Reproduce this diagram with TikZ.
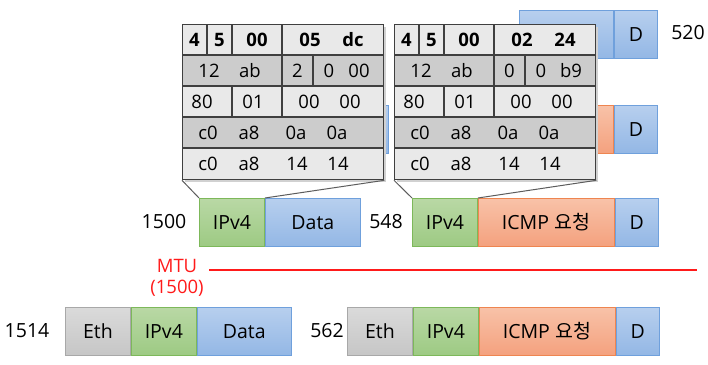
\documentclass[tikz,border=0pt]{standalone}
\usepackage{fontspec}
\setmainfont{Open Sans}
\newfontfamily\krfont{Noto Sans CJK KR}
\usetikzlibrary{positioning}
\definecolor{GreenTop}{HTML}{B9D8A5}
\definecolor{GreenBot}{HTML}{9DCA83}
\definecolor{GreenLine}{HTML}{7DB85A}
\definecolor{BlueTop}{HTML}{B7CFEE}
\definecolor{BlueBot}{HTML}{93B7E5}
\definecolor{BlueLine}{HTML}{6FA0DC}
\definecolor{OrangeTop}{HTML}{F8C2A8}
\definecolor{OrangeBot}{HTML}{F4A17E}
\definecolor{OrangeLine}{HTML}{EE8550}
\definecolor{GrayTop}{HTML}{DADADA}
\definecolor{GrayBot}{HTML}{C6C6C6}
\definecolor{GrayLine}{HTML}{A8A8A8}
\definecolor{TabLight}{HTML}{E9E9E9}
\definecolor{TabDark}{HTML}{CCCCCC}
\definecolor{TabLine}{HTML}{3F3F3F}
\definecolor{MTURed}{HTML}{FF1A1A}

\tikzset{
  pkt/.style={anchor=north west, inner sep=0pt, minimum height=48pt, line width=0.9pt,
    font=\fontsize{19.5}{21}\selectfont},
  ipv4/.style={pkt, draw=GreenLine, top color=GreenTop, bottom color=GreenBot, minimum width=65pt},
  pay/.style={pkt, draw=BlueLine, top color=BlueTop, bottom color=BlueBot},
  icmp/.style={pkt, draw=OrangeLine, top color=OrangeTop, bottom color=OrangeBot, minimum width=136pt},
  eth/.style={pkt, draw=GrayLine, top color=GrayTop, bottom color=GrayBot, minimum width=65pt},
  lbl/.style={inner sep=0pt, font=\fontsize{19.5}{21}\selectfont},
  mtutxt/.style={inner sep=0pt, text=MTURed, font=\fontsize{18.5}{20}\selectfont},
  tabline/.style={draw=TabLine, line width=1.1pt},
  tabframe/.style={draw=TabLine, line width=1.3pt, anchor=north west, inner sep=0pt,
    minimum width=201pt, minimum height=155pt},
  htxt/.style={inner sep=0pt, font=\fontsize{18.5}{20}\selectfont},
  hbold/.style={htxt, font=\fontsize{18.5}{20}\selectfont\bfseries},
  callout/.style={draw=TabLine!85, line width=1pt}
}

% IPv4 header table: x, name, length hi, length lo, flag, offset/checksum
\newcommand{\hdrtab}[6]{%
  \begin{scope}[shift={(#1,24)}]
    % shadow and rows
    \fill[black!18] (2.5,2.5) rectangle (204,158);
    \fill[TabLight] (0,0) rectangle (201,31);
    \fill[TabDark] (0,31) rectangle (201,62);
    \fill[TabLight] (0,62) rectangle (201,93);
    \fill[TabDark] (0,93) rectangle (201,124);
    \fill[TabLight] (0,124) rectangle (201,155);
    \draw[tabline] (0,31) -- (201,31) (0,62) -- (201,62) (0,93) -- (201,93) (0,124) -- (201,124);
    \draw[tabline] (25,0) -- (25,31) (50,0) -- (50,31) (100,0) -- (100,31);
    \draw[tabline] (100,31) -- (100,62) (131,31) -- (131,62);
    \draw[tabline] (50,62) -- (50,93) (100,62) -- (100,93);
    \node[tabframe] (#2) at (0,0) {};
    % fields
    \foreach \x/\t [count=\i] in {12.5/4, 37.5/5, 75/00, 128/#3, 171/#4}
      \node[hbold] (#2-a\i) at (\x,15.5) {\t};
    \foreach \x/\t [count=\i] in {27/12, 68/ab, 115.5/#5, 147/0, 177/#6}
      \node[htxt] (#2-b\i) at (\x,46.5) {\t};
    \foreach \x/\t [count=\i] in {20/80, 71/01, 127/00, 168/00}
      \node[htxt] (#2-c\i) at (\x,77.5) {\t};
    \foreach \x/\t [count=\i] in {26/c0, 67/a8, 114/0a, 155/0a}
      \node[htxt] (#2-d\i) at (\x,108.5) {\t};
    \foreach \x/\t [count=\i] in {26/c0, 67/a8, 115/14, 156/14}
      \node[htxt] (#2-e\i) at (\x,139.5) {\t};
  \end{scope}}

\begin{document}
\begin{tikzpicture}[x=1pt, y=-1pt]
  \useasboundingbox (0,0) rectangle (708,364);

  % fragments behind the tables
  \node[pay, minimum width=94pt] (topdata) at (519,10) {};
  \node[pay, minimum width=43pt, right=0pt of topdata] (topd) {D};
  \node[lbl] (n520) at (688,33) {520};
  \node[pay, minimum width=88pt] (backdata) at (300,105) {};
  \node[icmp] (backicmp) at (477,105) {};
  \node[pay, minimum width=43pt, right=0pt of backicmp] (backd) {D};

  % IP packets
  \node[lbl] (n1500) at (164,222) {1500};
  \node[ipv4] (ip1) at (199,198) {IPv4};
  \node[pay, minimum width=95pt, right=0pt of ip1] (data1) {Data};
  \node[lbl] (n548) at (386,222) {548};
  \node[ipv4] (ip2) at (412,198) {IPv4};
  \node[icmp, right=0pt of ip2] (icmp2) {ICMP\hspace{0.3em}{\krfont 요청}};
  \node[pay, minimum width=43pt, right=0pt of icmp2] (d2) {D};

  % header tables
  \hdrtab{182}{tabL}{05}{dc}{2}{00}
  \hdrtab{394}{tabR}{02}{24}{0}{b9}
  \draw[callout] (tabL.south west) -- (ip1.north west);
  \draw[callout] (tabL.south east) -- (ip1.north east);
  \draw[callout] (tabR.south west) -- (ip2.north west);
  \draw[callout] (tabR.south east) -- (ip2.north east);

  % MTU
  \node[mtutxt] (mtu) at (177,266) {MTU};
  \node[mtutxt] (mtuval) at (177,288) {(1500)};
  \coordinate (mtuL) at (209,270);
  \coordinate (mtuR) at (697,270);
  \draw[MTURed, line width=1.6pt] (mtuL) -- (mtuR);

  % Ethernet frames
  \node[lbl] (n1514) at (27,331) {1514};
  \node[eth] (eth3) at (65,307) {Eth};
  \node[ipv4, right=0pt of eth3] (ip3) {IPv4};
  \node[pay, minimum width=94pt, right=0pt of ip3] (data3) {Data};
  \node[lbl] (n562) at (327,331) {562};
  \node[eth] (eth4) at (347,307) {Eth};
  \node[ipv4, right=0pt of eth4] (ip4) {IPv4};
  \node[icmp, right=0pt of ip4] (icmp4) {ICMP\hspace{0.3em}{\krfont 요청}};
  \node[pay, minimum width=43pt, right=0pt of icmp4] (d4) {D};
\end{tikzpicture}
\end{document}
